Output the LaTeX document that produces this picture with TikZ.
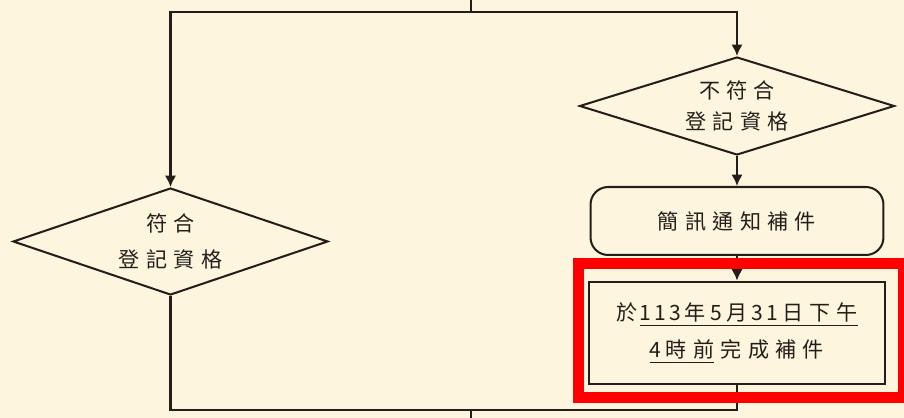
\documentclass[tikz,border=0pt]{standalone}
\usepackage{fontspec}
\newfontfamily\cjk[LetterSpace=30]{Noto Sans CJK TC}
\newfontfamily\cjknum[LetterSpace=14]{Noto Sans CJK TC}
\newcommand{\dnum}[1]{{\cjknum #1}\kern2.4pt}
\usetikzlibrary{shapes.geometric,arrows.meta}
\definecolor{paper}{RGB}{253,245,222}
\definecolor{ink}{RGB}{34,30,26}
\tikzset{
  link/.style={draw=ink,line width=1.15pt},
  flow/.style={link,-{Latex[length=6.5pt,width=6.5pt]}},
  check/.style={diamond,draw=ink,line width=1.15pt,aspect=3,inner sep=0pt,align=center,text=ink,font=\cjk\fontsize{12}{18}\selectfont},
  notice/.style={rectangle,draw=ink,line width=1.15pt,align=center,text=ink,font=\cjk\fontsize{12}{21}\selectfont}
}
\begin{document}
\begin{tikzpicture}[x=0.02cm,y=-0.02cm]
	\fill [paper] (0,0) rectangle (904,418);
	\useasboundingbox (0,0) rectangle (904,418);
	\node [check,minimum width=6.3cm,minimum height=1.96cm] (nomatch) at (737,106) {不符合\\登記資格};
	\node [check,minimum width=6.3cm,minimum height=2.14cm,font=\cjk\fontsize{12}{20}\selectfont] (match) at (170.5,241.5) {符合\\登記資格};
	\node [notice,rounded corners=10pt,minimum width=5.86cm,minimum height=1.36cm] (sms) at (737,221) {簡訊通知補件};
	\node [notice,line width=1.6pt,minimum width=5.92cm,minimum height=2.04cm] (due) at (737,333) {於\kern1.5pt\underline{\dnum{113}年\kern2.4pt\dnum{5}月\kern2.4pt\dnum{31}日下午}\\\underline{\dnum{4}時前}\kern3.6pt完成補件};
	\coordinate (top) at (471,0);
	\coordinate (split) at (471,12);
	\coordinate (merge) at (471,410);
	\coordinate (bottom) at (471,418);
	\draw [link] (top) -- (split);
	\draw [flow] (split) -| (match.north);
	\draw [flow] (split) -| (nomatch.north);
	\draw [flow] (nomatch.south) -- (sms.north);
	\draw [flow] (sms.south) -- (due.north);
	\draw [link] (match.south) |- (merge) -| (due.south);
	\draw [link] (merge) -- (bottom);
	\draw [red,line width=0.22cm] (578.5,263.5) rectangle (903,397.5);
\end{tikzpicture}
\end{document}
